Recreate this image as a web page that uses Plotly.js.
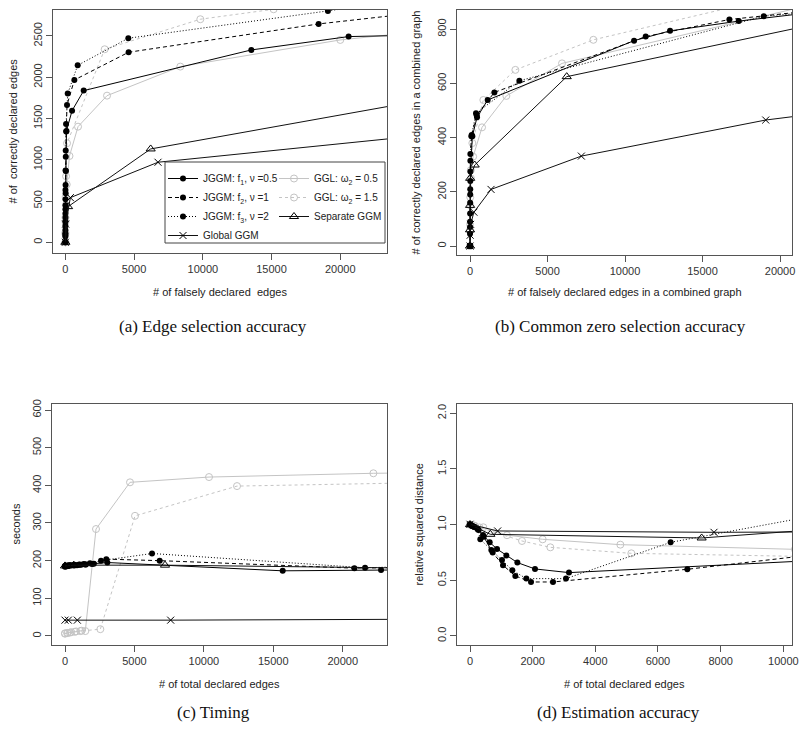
<!DOCTYPE html>
<html>
<head>
<meta charset="utf-8">
<script src="https://cdn.plot.ly/plotly-3.0.1.min.js"></script>
<style>html,body{margin:0;padding:0;background:#fff;}#chart{width:800px;height:739px;}</style>
</head>
<body>
<div id="chart"></div>
<script>
// ---------- Panel (a): edge selection accuracy ----------
const a_f1_x = [0, 0, 2, 5, 10, 20, 40, 80, 487, 1333, 13527, 20606, 40000];
const a_f1_y = [0, 70, 150, 300, 450, 594, 864, 1350, 1595, 1838, 2331, 2493, 2560];
const a_f2_x = [0, 0, 2, 4, 8, 15, 30, 60, 121, 654, 4600, 18424, 40000];
const a_f2_y = [0, 90, 200, 350, 520, 695, 1038, 1341, 1664, 1967, 2303, 2646, 3050];
const a_f3_x = [0, 0, 1, 3, 6, 12, 25, 50, 170, 897, 4580, 19100, 40000];
const a_f3_y = [0, 110, 250, 400, 634, 870, 1111, 1434, 1802, 2145, 2473, 2804, 3300];
const a_ggl05_x = [0, 2, 10, 40, 100, 300, 921, 3030, 8363, 20000, 40000];
const a_ggl05_y = [0, 100, 250, 450, 700, 1046, 1401, 1777, 2129, 2452, 2800];
const a_ggl15_x = [0, 1, 5, 20, 50, 120, 2860, 9818, 15150, 40000];
const a_ggl15_y = [0, 120, 300, 550, 800, 1200, 2339, 2703, 2824, 3300];
const a_sep_x = [0, 196, 6206, 35000];
const a_sep_y = [0, 432, 1131, 1990];
const a_glob_x = [0, 20, 364, 6739, 40000];
const a_glob_y = [0, 220, 541, 970, 1533];

// ---------- Panel (b): common zero selection accuracy ----------
const b_f1_x = [0, 0, 5, 15, 25, 150, 452, 1140, 10581, 12903, 17333, 24000];
const b_f1_y = [0, 45, 120, 210, 275, 405, 475, 539, 758, 794, 830, 875];
const b_f2_x = [0, 2, 8, 18, 21, 108, 430, 1570, 11333, 16731, 24000];
const b_f2_y = [0, 70, 160, 240, 340, 410, 483, 567, 773, 836, 880];
const b_f3_x = [0, 3, 12, 22, 86, 387, 3183, 18946, 24000];
const b_f3_y = [0, 90, 190, 315, 405, 490, 610, 848, 872];
const b_ggl05_x = [0, 5, 20, 60, 200, 774, 2344, 5935, 25000];
const b_ggl05_y = [0, 60, 150, 250, 330, 438, 554, 674, 930];
const b_ggl15_x = [0, 3, 15, 50, 150, 860, 2925, 7957, 20000];
const b_ggl15_y = [0, 80, 180, 280, 380, 539, 650, 761, 923];
const b_sep_x = [0, 0, 5, 10, 301, 6237, 30000];
const b_sep_y = [0, 60, 150, 250, 299, 625, 912];
const b_glob_x = [0, 10, 40, 250, 1355, 7183, 19075, 30000];
const b_glob_y = [0, 40, 80, 125, 209, 332, 465, 543];

// ---------- Panel (c): timing ----------
const c_f1_x = [0, 60, 130, 223, 415, 628, 862, 1160, 1511, 2074, 3049, 15679, 22761, 30000];
const c_f1_y = [184, 185, 185, 186, 187, 187, 188, 189, 190, 192, 195, 173, 175, 177];
const c_f2_x = [0, 60, 130, 277, 436, 723, 1053, 1447, 1947, 2977, 6819, 20841, 30000];
const c_f2_y = [185, 186, 186, 187, 188, 188, 189, 190, 191, 204, 200, 180, 185];
const c_f3_x = [0, 60, 130, 250, 330, 681, 1021, 1351, 1798, 2593, 6267, 21609, 30000];
const c_f3_y = [186, 186, 187, 187, 188, 189, 190, 191, 193, 200, 219, 181, 190];
const c_ggl05_x = [0, 200, 450, 800, 1200, 1462, 2233, 4682, 10372, 22209, 30000];
const c_ggl05_y = [7, 8, 10, 12, 14, 13, 284, 408, 422, 432, 435];
const c_ggl15_x = [0, 150, 350, 700, 1100, 2545, 5042, 12389, 30000];
const c_ggl15_y = [6, 8, 9, 11, 13, 18, 319, 398, 410];
const c_sep_x = [0, 628, 7203, 30000];
const c_sep_y = [186, 188, 188, 178];
const c_glob_x = [0, 240, 888, 7611, 30000];
const c_glob_y = [42, 42, 42, 42, 45];

// ---------- Panel (d): estimation accuracy ----------
const d_f1_x = [0, 60, 130, 223, 415, 628, 862, 1160, 1511, 2074, 3160, 15679];
const d_f1_y = [1.0, 0.99, 0.98, 0.967, 0.907, 0.841, 0.781, 0.722, 0.659, 0.602, 0.569, 0.743];
const d_f2_x = [0, 60, 130, 277, 436, 723, 1053, 1447, 1947, 2649, 6936, 20841];
const d_f2_y = [1.0, 0.99, 0.98, 0.952, 0.892, 0.749, 0.635, 0.539, 0.485, 0.485, 0.599, 1.05];
const d_f3_x = [0, 60, 130, 250, 330, 681, 1021, 1351, 1798, 3064, 6404, 12000];
const d_f3_y = [1.0, 0.99, 0.98, 0.955, 0.868, 0.772, 0.683, 0.590, 0.515, 0.515, 0.841, 1.132];
const d_ggl05_x = [0, 150, 425, 1181, 2319, 4798, 10372];
const d_ggl05_y = [1.0, 0.99, 0.976, 0.905, 0.868, 0.82, 0.778];
const d_ggl15_x = [0, 120, 300, 1660, 2564, 5149, 12389];
const d_ggl15_y = [1.0, 0.99, 0.975, 0.853, 0.796, 0.742, 0.705];
const d_sep_x = [0, 649, 7393, 12000];
const d_sep_y = [1.0, 0.913, 0.880, 0.975];
const d_glob_x = [0, 883, 7787, 12000];
const d_glob_y = [1.003, 0.943, 0.931, 0.935];

// ---------- tick labels ----------
const xTicksAC = [0, 5000, 10000, 15000, 20000];
const xTicksD = [0, 2000, 4000, 6000, 8000, 10000];
const yTicksA = [0, 500, 1000, 1500, 2000, 2500];
const yTicksB = [0, 200, 400, 600, 800];
const yTicksC = [0, 100, 200, 300, 400, 500, 600];
const yTicksD = [0, 0.5, 1, 1.5, 2];
const yTickTextD = ['0.0', '0.5', '1.0', '1.5', '2.0'];

// ---------- labels ----------
const seriesNames = {
  f1: "JGGM: f<sub>1</sub>, ν =0.5",
  f2: "JGGM: f<sub>2</sub>, ν =1",
  f3: "JGGM: f<sub>3</sub>, ν =2",
  glob: "Global GGM",
  ggl05: "GGL: ω<sub>2</sub> = 0.5",
  ggl15: "GGL: ω<sub>2</sub> = 1.5",
  sep: "Separate GGM"
};
const xTitles = ["# of falsely declared \u00a0edges", "# of falsely declared edges in a combined graph",
                 "# of total declared edges", "# of total declared edges"];
const yTitles = ["# of \u00a0correctly declared edges", "# of correctly declared edges in a combined graph",
                 "seconds", "relative squared distance"];
const captions = ["(a) Edge selection accuracy", "(b) Common zero selection accuracy",
                  "(c) Timing", "(d) Estimation accuracy"];

const GRAY = '#c4c4c4';
const styles = {
  f1: {line: {color: '#000', width: 1}, marker: {symbol: 'circle', size: 6, color: '#000'}, legend: 'legend'},
  f2: {line: {color: '#000', width: 1, dash: '4px,3px'}, marker: {symbol: 'circle', size: 6, color: '#000'}, legend: 'legend'},
  f3: {line: {color: '#000', width: 1, dash: '1px,2px'}, marker: {symbol: 'circle', size: 6, color: '#000'}, legend: 'legend'},
  glob: {line: {color: '#111', width: 1}, marker: {symbol: 'x-thin-open', size: 7, color: '#000', line: {width: 1, color: '#000'}}, legend: 'legend'},
  ggl05: {line: {color: GRAY, width: 1}, marker: {symbol: 'circle-open', size: 7, color: GRAY, line: {width: 1, color: GRAY}}, legend: 'legend2'},
  ggl15: {line: {color: GRAY, width: 1, dash: '3px,3px'}, marker: {symbol: 'circle-open', size: 7, color: GRAY, line: {width: 1, color: GRAY}}, legend: 'legend2'},
  sep: {line: {color: '#111', width: 1}, marker: {symbol: 'triangle-up-open', size: 8, color: '#000', line: {width: 1, color: '#000'}}, legend: 'legend2'}
};

const panels = [
  {xa: 'x',  ya: 'y',  d: {f1: [a_f1_x, a_f1_y], f2: [a_f2_x, a_f2_y], f3: [a_f3_x, a_f3_y], ggl05: [a_ggl05_x, a_ggl05_y], ggl15: [a_ggl15_x, a_ggl15_y], sep: [a_sep_x, a_sep_y], glob: [a_glob_x, a_glob_y]}},
  {xa: 'x2', ya: 'y2', d: {f1: [b_f1_x, b_f1_y], f2: [b_f2_x, b_f2_y], f3: [b_f3_x, b_f3_y], ggl05: [b_ggl05_x, b_ggl05_y], ggl15: [b_ggl15_x, b_ggl15_y], sep: [b_sep_x, b_sep_y], glob: [b_glob_x, b_glob_y]}},
  {xa: 'x3', ya: 'y3', d: {f1: [c_f1_x, c_f1_y], f2: [c_f2_x, c_f2_y], f3: [c_f3_x, c_f3_y], ggl05: [c_ggl05_x, c_ggl05_y], ggl15: [c_ggl15_x, c_ggl15_y], sep: [c_sep_x, c_sep_y], glob: [c_glob_x, c_glob_y]}},
  {xa: 'x4', ya: 'y4', d: {f1: [d_f1_x, d_f1_y], f2: [d_f2_x, d_f2_y], f3: [d_f3_x, d_f3_y], ggl05: [d_ggl05_x, d_ggl05_y], ggl15: [d_ggl15_x, d_ggl15_y], sep: [d_sep_x, d_sep_y], glob: [d_glob_x, d_glob_y]}}
];
// draw order: gray first, then JGGM, then separate / global; legend order per column follows this
const drawOrder = ['ggl05', 'ggl15', 'f1', 'f2', 'f3', 'sep', 'glob'];

const traces = [];
panels.forEach((p, i) => {
  drawOrder.forEach(k => {
    const s = styles[k];
    traces.push({
      type: 'scatter', mode: 'lines+markers',
      x: p.d[k][0], y: p.d[k][1], xaxis: p.xa, yaxis: p.ya,
      name: seriesNames[k], line: s.line, marker: s.marker,
      showlegend: i === 0, legend: s.legend, cliponaxis: true, hoverinfo: 'skip'
    });
  });
});

const W = 800, H = 739;
const px = v => v / W, py = v => 1 - v / H;
const FONT = 'Liberation Sans, Arial, sans-serif';
const axisBase = {
  showgrid: false, zeroline: false, showline: true, mirror: true,
  linecolor: '#555', linewidth: 1, ticks: 'outside', ticklen: 6, tickwidth: 1, tickcolor: '#555',
  tickfont: {family: FONT, size: 11, color: '#333'}, fixedrange: true, tickmode: 'array'
};
const xa = (dom, range, tv, anchor) => Object.assign({}, axisBase, {domain: dom, range: range, tickvals: tv, ticktext: tv.map(String), anchor: anchor});
const ya = (dom, range, tv, tt, anchor) => Object.assign({}, axisBase, {domain: dom, range: range, tickvals: tv, ticktext: tt || tv.map(String), anchor: anchor, tickangle: -90});

const layout = {
  width: W, height: H, margin: {l: 0, r: 0, t: 0, b: 0},
  paper_bgcolor: '#fff', plot_bgcolor: '#fff',
  font: {family: FONT, color: '#222'},
  xaxis:  xa([px(53), px(387)], [-900, 23400], xTicksAC, 'y'),
  yaxis:  ya([py(253), py(10)], [-130, 2815], yTicksA, null, 'x'),
  xaxis2: xa([px(457), px(792)], [-840, 20770], xTicksAC, 'y2'),
  yaxis2: ya([py(255), py(10)], [-33, 871], yTicksB, null, 'x2'),
  xaxis3: xa([px(52), px(387)], [-936, 23190], xTicksAC, 'y3'),
  yaxis3: ya([py(645), py(404)], [-24, 616], yTicksC, null, 'x3'),
  xaxis4: xa([px(457), px(792)], [-415, 10277], xTicksD, 'y4'),
  yaxis4: ya([py(645), py(404)], [-0.081, 2.083], yTicksD, yTickTextD, 'x4'),
  legend: {x: px(163), y: py(164), xanchor: 'left', yanchor: 'top', bgcolor: 'rgba(0,0,0,0)', borderwidth: 0,
           font: {family: FONT, size: 10, color: '#222'}, tracegroupgap: 0, itemwidth: 30},
  legend2: {x: px(274), y: py(164), xanchor: 'left', yanchor: 'top', bgcolor: 'rgba(0,0,0,0)', borderwidth: 0,
            font: {family: FONT, size: 10, color: '#222'}, tracegroupgap: 0, itemwidth: 30},
  shapes: [{type: 'rect', xref: 'paper', yref: 'paper', x0: px(165), x1: px(385), y0: py(243), y1: py(162),
            line: {color: '#444', width: 1}, fillcolor: '#fff', layer: 'above'}],
  annotations: []
};

const xTitlePos = [[220, 292], [624.5, 292], [219.5, 684], [624.5, 684]];
const yTitlePos = [[13, 131.5], [415, 132.5], [15, 524.5], [418, 524.5]];
const capPos = [[213, 327], [620, 327], [213, 712], [618, 712]];
for (let i = 0; i < 4; i++) {
  layout.annotations.push({text: xTitles[i], xref: 'paper', yref: 'paper', x: px(xTitlePos[i][0]), y: py(xTitlePos[i][1]),
    xanchor: 'center', yanchor: 'middle', showarrow: false, font: {family: FONT, size: 11, color: '#222'}});
  layout.annotations.push({text: yTitles[i], xref: 'paper', yref: 'paper', x: px(yTitlePos[i][0]), y: py(yTitlePos[i][1]),
    xanchor: 'center', yanchor: 'middle', textangle: -90, showarrow: false, font: {family: FONT, size: 11, color: '#222'}});
  layout.annotations.push({text: captions[i], xref: 'paper', yref: 'paper', x: px(capPos[i][0]), y: py(capPos[i][1]),
    xanchor: 'center', yanchor: 'middle', showarrow: false, font: {family: 'Liberation Serif, Times New Roman, serif', size: 17, color: '#111'}});
}

Plotly.newPlot('chart', traces, layout, {staticPlot: true, displayModeBar: false});
</script>
</body>
</html>
